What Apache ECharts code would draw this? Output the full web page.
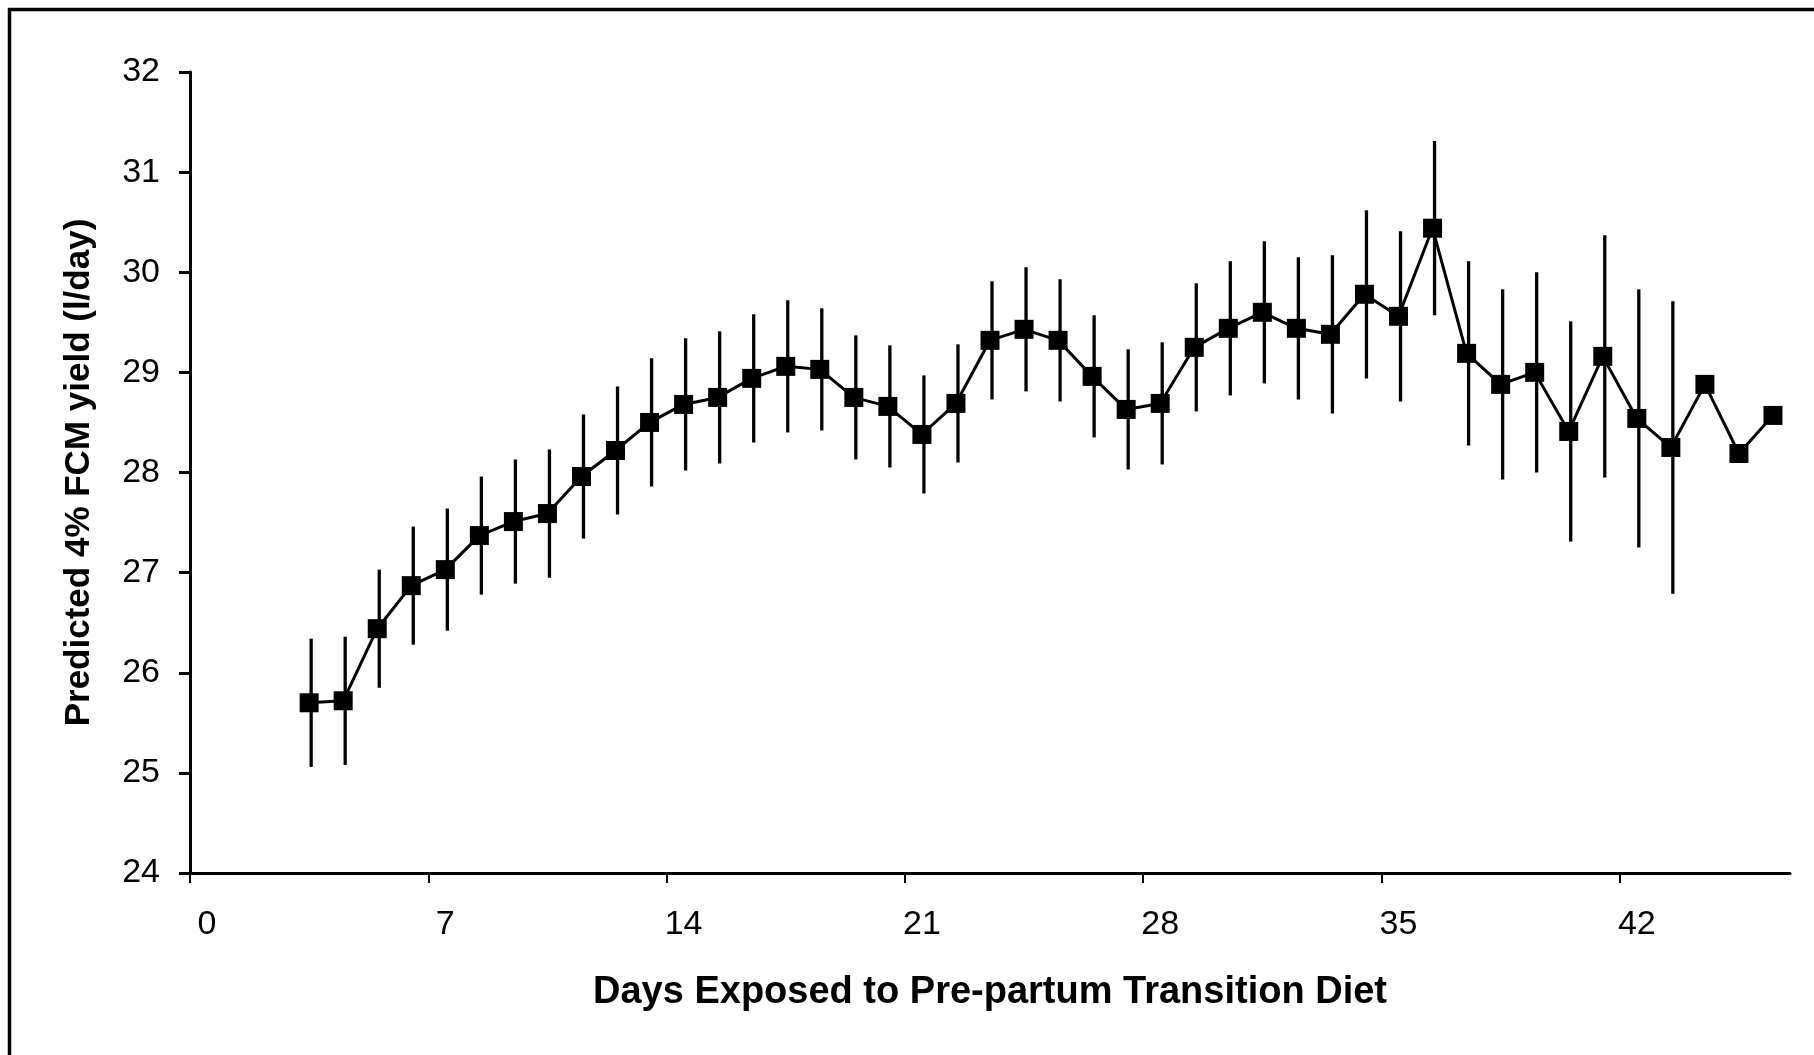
<!DOCTYPE html>
<html>
<head>
<meta charset="utf-8">
<script src="https://cdn.jsdelivr.net/npm/echarts@6/dist/echarts.min.js"></script>
<style>
    html, body { margin: 0; padding: 0; background: #fff; }
    #fcm-chart { width: 1814px; height: 1055px; }
</style>
</head>
<body>
<div id="fcm-chart"></div>
<script>
    // days on the transition diet, one point per day
    const days = [3, 4, 5, 6, 7, 8, 9, 10, 11, 12, 13, 14, 15, 16, 17, 18, 19, 20, 21, 22, 23, 24,
        25, 26, 27, 28, 29, 30, 31, 32, 33, 34, 35, 36, 37, 38, 39, 40, 41, 42, 43, 44, 45, 46];
    // predicted 4% FCM yield (l/day)
    const fcmYield = [25.70, 25.72, 26.44, 26.87, 27.03, 27.37, 27.51, 27.59, 27.96, 28.22, 28.50,
        28.68, 28.75, 28.94, 29.06, 29.03, 28.75, 28.66, 28.38, 28.69, 29.32, 29.43, 29.32, 28.96,
        28.63, 28.69, 29.25, 29.44, 29.60, 29.44, 29.38, 29.78, 29.56, 30.44, 29.19, 28.88, 29.00,
        28.41, 29.16, 28.54, 28.25, 28.88, 28.19, 28.57];
    // half length of the error bars (0 = no bar)
    const errBar = [0.64, 0.64, 0.59, 0.59, 0.61, 0.59, 0.62, 0.64, 0.62, 0.64, 0.64, 0.66, 0.66,
        0.64, 0.66, 0.61, 0.62, 0.61, 0.59, 0.59, 0.59, 0.62, 0.61, 0.61, 0.60, 0.61, 0.64, 0.67,
        0.71, 0.71, 0.79, 0.84, 0.85, 0.87, 0.92, 0.95, 1.00, 1.10, 1.21, 1.29, 1.46, 0, 0, 0];
    const xTickDays = [0, 7, 14, 21, 28, 35, 42];
    const yTicks = [24, 25, 26, 27, 28, 29, 30, 31, 32];

    const font = "'Liberation Sans', Arial, sans-serif";

    // the axis is built like a category axis: each day sits in the middle of its slot
    let linePoints = [];
    let barPoints = [];
    for (let i in days) {
        linePoints.push([days[i] + 0.5, fcmYield[i]]);
        barPoints.push([days[i] + 0.5, fcmYield[i], errBar[i]]);
    }

    let eChart = echarts.init(document.getElementById("fcm-chart"));
    eChart.setOption({
        animation: false,
        backgroundColor: "#fff",
        graphic: [
            {
                type: "polyline",
                shape: { points: [[9.5, 1055], [9.5, 9.5], [1814, 9.5]] },
                style: { stroke: "#000", lineWidth: 3.5, fill: null }
            }
        ],
        grid: {
            left: 190,
            right: 24,
            top: 72,
            bottom: 182,
            containLabel: false
        },
        xAxis: {
            type: "value",
            min: 0,
            max: 47,
            name: "Days Exposed to Pre-partum Transition Diet",
            nameLocation: "middle",
            nameGap: 101,
            nameTextStyle: { fontFamily: font, fontWeight: "bold", fontSize: 38, color: "#000" },
            axisLine: { show: true, onZero: false, lineStyle: { color: "#000", width: 3 } },
            axisTick: {
                show: true,
                inside: false,
                length: 10,
                customValues: xTickDays,
                lineStyle: { color: "#000", width: 2 }
            },
            axisLabel: {
                customValues: xTickDays.map(d => d + 0.5),
                formatter: v => String(Math.floor(v)),
                margin: 35,
                fontFamily: font,
                fontSize: 34,
                color: "#000"
            },
            splitLine: { show: false }
        },
        yAxis: {
            type: "value",
            min: yTicks[0],
            max: yTicks[yTicks.length - 1],
            interval: 1,
            name: "Predicted 4% FCM yield (l/day)",
            nameLocation: "middle",
            nameGap: 93,
            nameTextStyle: { fontFamily: font, fontWeight: "bold", fontSize: 35, color: "#000" },
            axisLine: { show: true, lineStyle: { color: "#000", width: 3 } },
            axisTick: { show: true, inside: false, length: 11, lineStyle: { color: "#000", width: 3 } },
            axisLabel: { margin: 30, fontFamily: font, fontSize: 34, color: "#000" },
            splitLine: { show: false }
        },
        series: [
            {
                name: "error",
                type: "custom",
                data: barPoints,
                z: 2,
                renderItem: function (params, api) {
                    let x = api.value(0);
                    let y = api.value(1);
                    let e = api.value(2);
                    if (!e) {
                        return null;
                    }
                    let top = api.coord([x, y + e]);
                    let bottom = api.coord([x, y - e]);
                    return {
                        type: "line",
                        shape: { x1: top[0] + 2, y1: top[1], x2: bottom[0] + 2, y2: bottom[1] },
                        style: { stroke: "#000", lineWidth: 3.3 }
                    };
                }
            },
            {
                name: "FCM",
                type: "line",
                data: linePoints,
                z: 3,
                symbol: "rect",
                symbolSize: 19,
                itemStyle: { color: "#000", borderRadius: 2 },
                lineStyle: { color: "#000", width: 3 }
            }
        ]
    }, true);
</script>
</body>
</html>
